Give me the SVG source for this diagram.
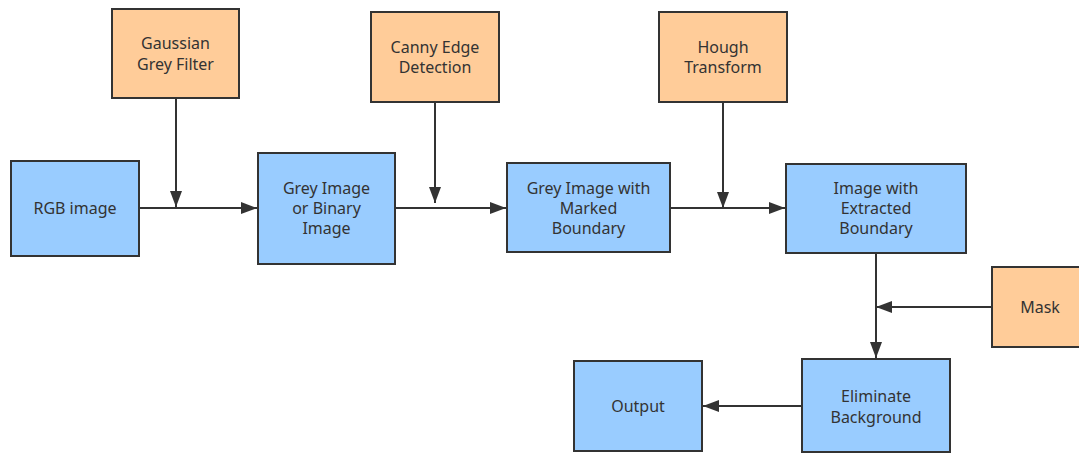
<svg xmlns="http://www.w3.org/2000/svg" width="1079" height="453" viewBox="0 0 1079 453">
<defs>
<marker id="ah" viewBox="0 0 16 12" refX="16" refY="6" markerWidth="16" markerHeight="12" markerUnits="userSpaceOnUse" orient="auto">
<path d="M0,0 L16,6 L0,12 Z" fill="#333333"/>
</marker>
</defs>
<style>
.blue{fill:#99CCFF;stroke:#333333;stroke-width:2}
.orange{fill:#FFCC99;stroke:#333333;stroke-width:2}
text{font-family:"Noto Sans","Open Sans","DejaVu Sans",sans-serif;font-size:16px;fill:#333333;text-anchor:middle}
.c{fill:none;stroke:#333333;stroke-width:2}
</style>
<rect width="1079" height="453" fill="#FFFFFF"/>
<g id="connectors">
<line class="c" x1="139" y1="208" x2="257" y2="208" marker-end="url(#ah)"/>
<line class="c" x1="176" y1="98" x2="176" y2="207" marker-end="url(#ah)"/>
<line class="c" x1="395" y1="208" x2="506" y2="208" marker-end="url(#ah)"/>
<line class="c" x1="435" y1="102" x2="435" y2="203" marker-end="url(#ah)"/>
<line class="c" x1="670" y1="208" x2="785" y2="208" marker-end="url(#ah)"/>
<line class="c" x1="723" y1="102" x2="723" y2="208" marker-end="url(#ah)"/>
<line class="c" x1="876" y1="253" x2="876" y2="358" marker-end="url(#ah)"/>
<line class="c" x1="992" y1="307" x2="876" y2="307" marker-end="url(#ah)"/>
<line class="c" x1="802" y1="406" x2="703" y2="406" marker-end="url(#ah)"/>
</g>
<g id="gaussian">
<rect class="orange" x="112" y="9" width="127" height="89"/>
<text x="175.5" y="49">Gaussian</text>
<text x="175.5" y="70">Grey Filter</text>
</g>
<g id="rgb">
<rect class="blue" x="11" y="161" width="128" height="95"/>
<text x="75" y="214">RGB image</text>
</g>
<g id="grey">
<rect class="blue" x="258" y="153" width="137" height="111"/>
<text x="326.5" y="194">Grey Image</text>
<text x="326.5" y="214">or Binary</text>
<text x="326.5" y="234">Image</text>
</g>
<g id="canny">
<rect class="orange" x="371" y="12" width="128" height="90"/>
<text x="435" y="53">Canny Edge</text>
<text x="435" y="73">Detection</text>
</g>
<g id="marked">
<rect class="blue" x="507" y="163" width="163" height="89"/>
<text x="588.5" y="194">Grey Image with</text>
<text x="588.5" y="214">Marked</text>
<text x="588.5" y="234">Boundary</text>
</g>
<g id="hough">
<rect class="orange" x="659" y="12" width="128" height="90"/>
<text x="723" y="53">Hough</text>
<text x="723" y="73">Transform</text>
</g>
<g id="extracted">
<rect class="blue" x="786" y="164" width="180" height="89"/>
<text x="876" y="194">Image with</text>
<text x="876" y="214">Extracted</text>
<text x="876" y="234">Boundary</text>
</g>
<g id="mask">
<rect class="orange" x="992" y="267" width="92" height="80"/>
<text x="1040" y="313">Mask</text>
</g>
<g id="eliminate">
<rect class="blue" x="802" y="359" width="148" height="93"/>
<text x="876" y="402">Eliminate</text>
<text x="876" y="423">Background</text>
</g>
<g id="output">
<rect class="blue" x="574" y="361" width="128" height="90"/>
<text x="638" y="412">Output</text>
</g>
</svg>
